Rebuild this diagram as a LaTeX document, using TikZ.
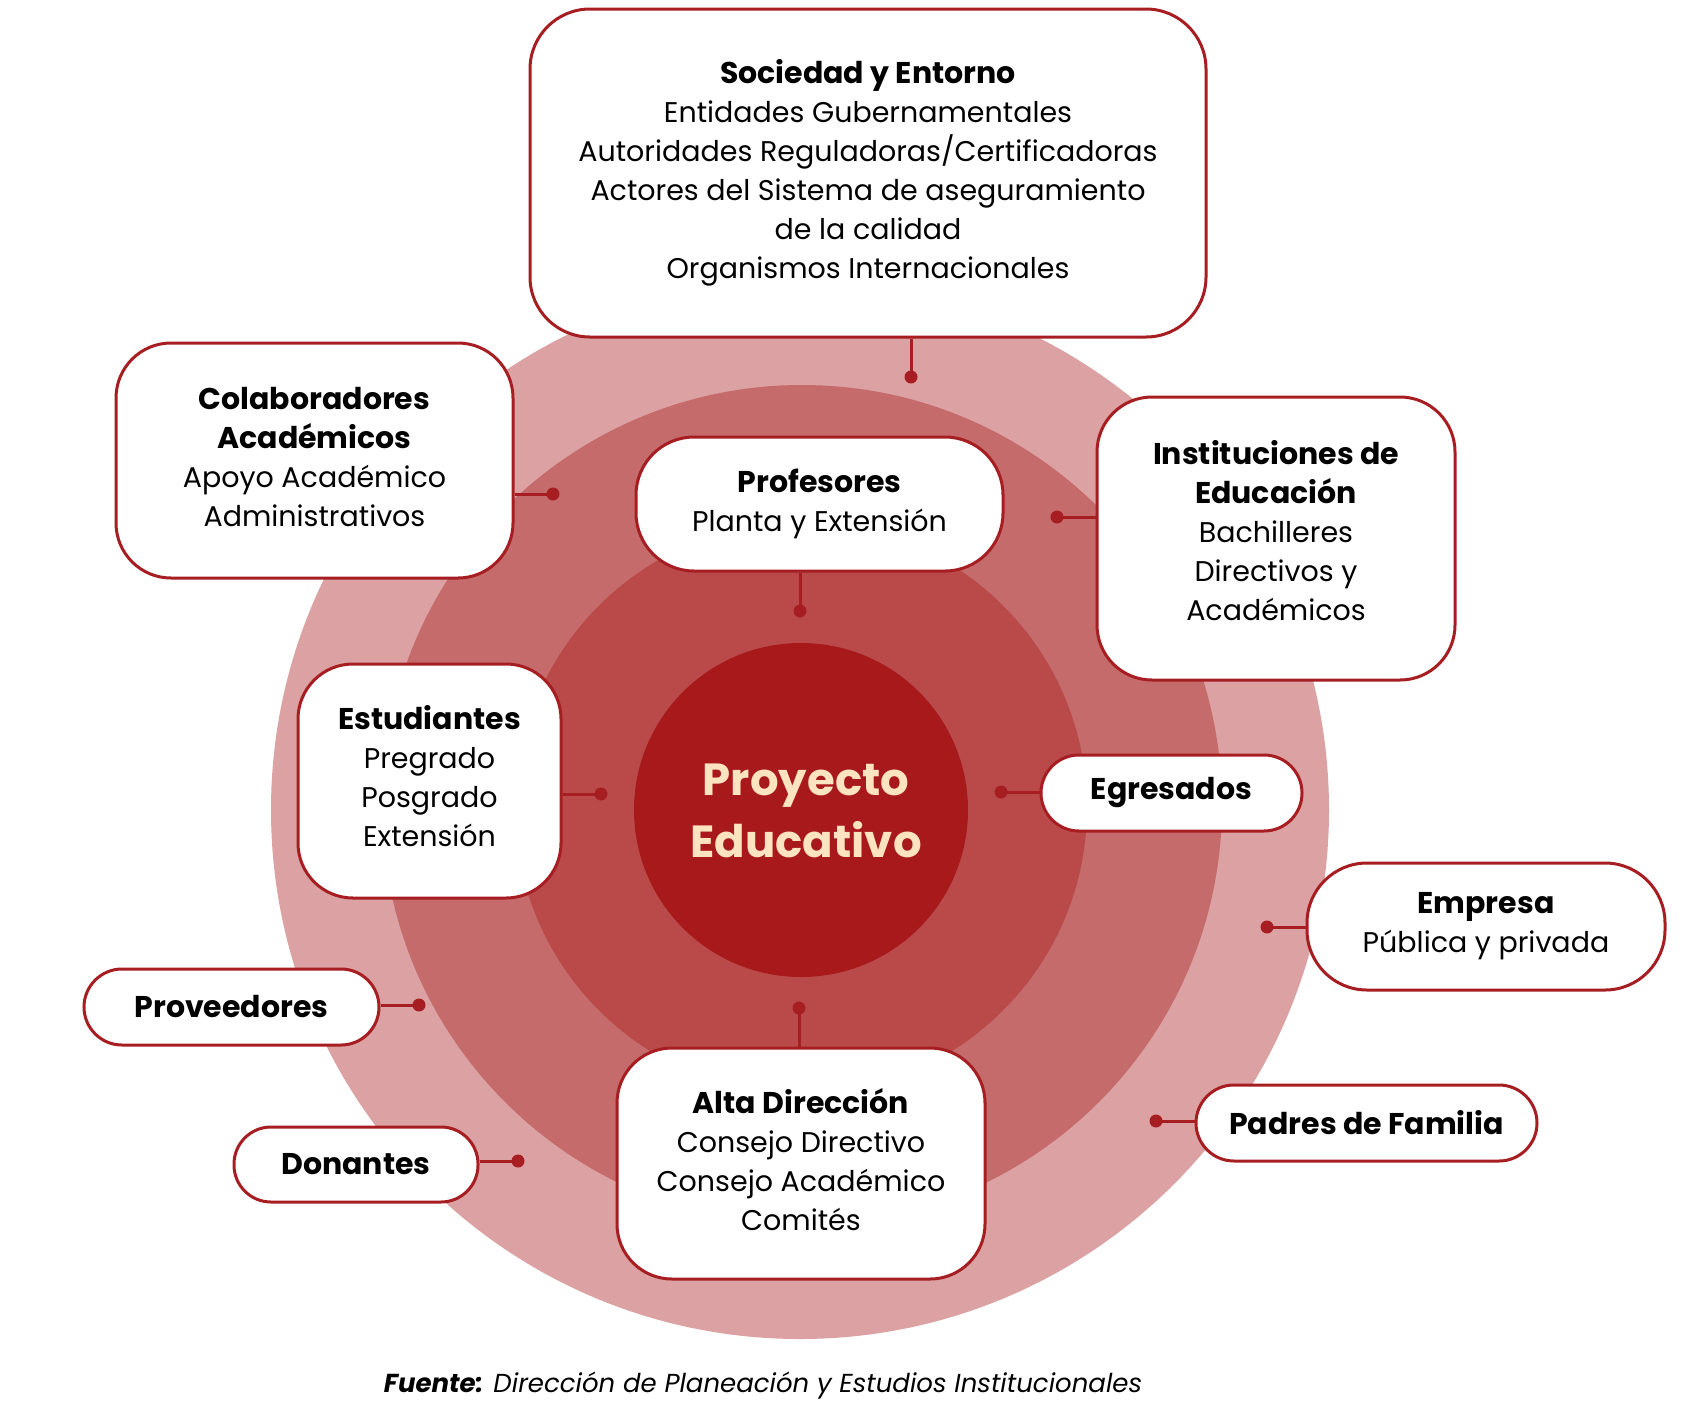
\documentclass[tikz,border=0pt]{standalone}
\usepackage{fontspec}
\setmainfont{Poppins}
\definecolor{ringA}{HTML}{DCA1A2}
\definecolor{ringB}{HTML}{C56B6B}
\definecolor{ringC}{HTML}{BA4A4A}
\definecolor{ringD}{HTML}{A8191B}
\definecolor{edge}{HTML}{A61E22}
\definecolor{cream}{HTML}{FCE4C0}
\newcommand{\hd}[1]{{\fontsize{30}{39}\selectfont\bfseries #1}}
\begin{document}
\begin{tikzpicture}[x=1pt,y=-1pt,
  box/.style={draw=edge, line width=3pt, fill=white, align=center, inner sep=0pt,
    font=\fontsize{28.5}{39}\selectfont, text=black},
  conn/.style={draw=edge, line width=3pt},
  dot/.style={fill=edge}]
\useasboundingbox (0,0) rectangle (1689,1414);
% rings
\fill[ringA] (800,810) circle[radius=529pt];
\fill[ringB] (802,805) circle[radius=420pt];
\fill[ringC] (801,808) circle[radius=286pt];
\fill[ringD] (801,810) circle[radius=167pt];
\node[text=cream, font=\fontsize{45}{62}\selectfont\bfseries, align=center] (pe) at (806,811) {Proyecto\\Educativo};
% dots (connector free ends)
\coordinate (dsoc) at (911,377);
\coordinate (dcol) at (553,494);
\coordinate (dpro) at (800,611);
\coordinate (dins) at (1057,517);
\coordinate (dest) at (601,794);
\coordinate (degr) at (1001,792);
\coordinate (demp) at (1267,927);
\coordinate (dprv) at (419,1005);
\coordinate (ddon) at (518,1161);
\coordinate (dalt) at (799,1008);
\coordinate (dpad) at (1156,1121);
% boxes
\node[box, minimum width=676pt, minimum height=328pt, rounded corners=60pt] (soc) at (868,173)
 {\hd{Sociedad y Entorno}\\Entidades Gubernamentales\\Autoridades Reguladoras/Certificadoras\\Actores del Sistema de aseguramiento\\de la calidad\\Organismos Internacionales};
\node[box, minimum width=397pt, minimum height=235pt, rounded corners=55pt] (col) at (314.5,460.5)
 {\hd{Colaboradores}\\\hd{Académicos}\\Apoyo Académico\\Administrativos\\[-31pt]};
\node[box, minimum width=367pt, minimum height=134pt, rounded corners=58pt] (pro) at (819.5,504)
 {\hd{Profesores}\\Planta y Extensión};
\node[box, minimum width=358pt, minimum height=283pt, rounded corners=55pt] (ins) at (1276,538.5)
 {\hd{Instituciones de}\\\hd{Educación}\\Bachilleres\\Directivos y\\Académicos\\[-23pt]};
\node[box, minimum width=263pt, minimum height=234pt, rounded corners=55pt] (est) at (429.5,781)
 {\hd{Estudiantes}\\Pregrado\\Posgrado\\Extensión\\[-28pt]};
\node[box, minimum width=261pt, minimum height=76pt, rounded corners=38pt] (egr) at (1171.5,793)
 {\hd{Egresados}};
\node[box, minimum width=358pt, minimum height=127pt, rounded corners=60pt] (emp) at (1486,926.5)
 {\hd{Empresa}\\Pública y privada};
\node[box, minimum width=295pt, minimum height=76pt, rounded corners=38pt] (prv) at (231.5,1007)
 {\hd{Proveedores}};
\node[box, minimum width=244pt, minimum height=75pt, rounded corners=37pt] (don) at (356,1164.5)
 {\hd{Donantes}};
\node[box, minimum width=368pt, minimum height=231pt, rounded corners=55pt] (alt) at (801,1163.5)
 {\hd{Alta Dirección}\\Consejo Directivo\\Consejo Académico\\Comités\\[-31pt]};
\node[box, minimum width=341pt, minimum height=76pt, rounded corners=38pt] (pad) at (1366.5,1123)
 {\hd{Padres de Familia}};
% connectors
\draw[conn] (soc.south -| dsoc) -- (dsoc);
\draw[conn] (col.east |- dcol) -- (dcol);
\draw[conn] (pro.south -| dpro) -- (dpro);
\draw[conn] (ins.west |- dins) -- (dins);
\draw[conn] (est.east |- dest) -- (dest);
\draw[conn] (egr.west |- degr) -- (degr);
\draw[conn] (emp.west |- demp) -- (demp);
\draw[conn] (prv.east |- dprv) -- (dprv);
\draw[conn] (don.east |- ddon) -- (ddon);
\draw[conn] (alt.north -| dalt) -- (dalt);
\draw[conn] (pad.west |- dpad) -- (dpad);
\foreach \d in {dsoc,dcol,dpro,dins,dest,degr,demp,dprv,ddon,dalt,dpad}
  \fill[dot] (\d) circle[radius=6.5pt];
% footer
\node[font=\fontsize{26}{30}\selectfont\itshape, anchor=center] (src) at (763,1386)
 {\textbf{Fuente:} Dirección de Planeación y Estudios Institucionales};
\end{tikzpicture}
\end{document}
